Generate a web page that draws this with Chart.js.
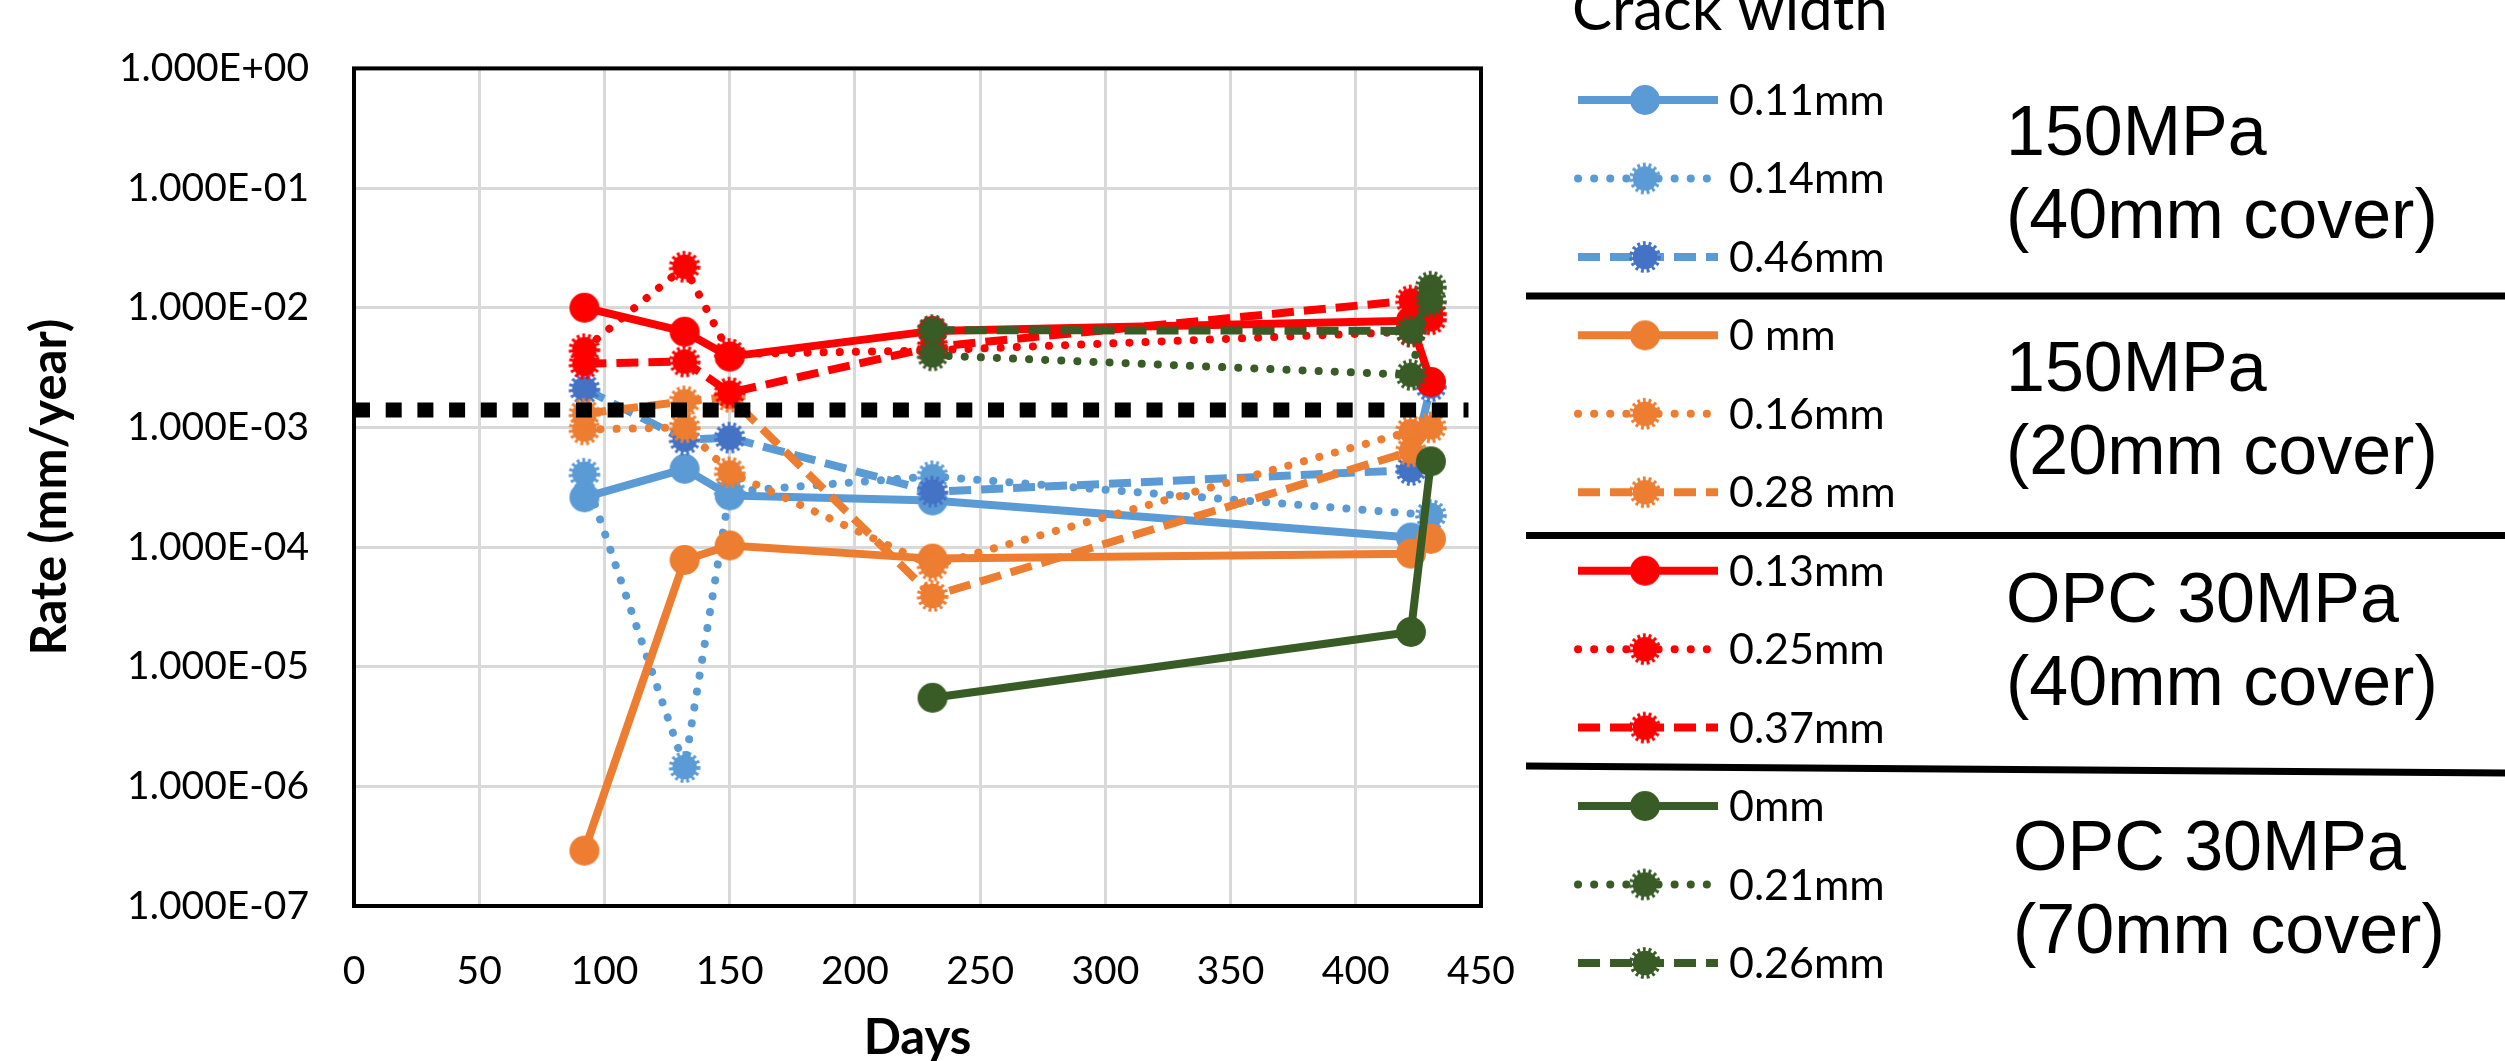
<!DOCTYPE html>
<html><head><meta charset="utf-8">
<script src="https://cdn.jsdelivr.net/npm/chart.js@4.4.0/dist/chart.umd.min.js"></script>
<style>html,body{margin:0;padding:0;background:#fff;overflow:hidden}canvas{display:block}</style>
</head><body>
<canvas id="c" width="2505" height="1061"></canvas>
<script>
// ---------- DATA ----------
const yTickValues = [1, 1e-1, 1e-2, 1e-3, 1e-4, 1e-5, 1e-6, 1e-7];
const yTickLabels = ['1.000E+00','1.000E-01','1.000E-02','1.000E-03','1.000E-04','1.000E-05','1.000E-06','1.000E-07'];
const xAxisTitle = 'Days';
const yAxisTitle = 'Rate (mm/year)';
const legendTitle = 'Crack width';

const seriesNames = ['0.11mm','0.14mm','0.46mm','0 mm','0.16mm','0.28 mm','0.13mm','0.25mm','0.37mm','0mm','0.21mm','0.26mm'];

// 150MPa (40mm cover)
const days_a1 = [92, 132, 150, 231, 422];
const rate_a1 = [2.6e-4, 4.5e-4, 2.7e-4, 2.45e-4, 1.2e-4];
const days_a2 = [92, 132, 150, 231, 430];
const rate_a2 = [4.1e-4, 1.45e-6, 2.9e-4, 3.9e-4, 1.85e-4];
const days_a3 = [92, 132, 150, 231, 422, 430];
const rate_a3 = [2.1e-3, 7.9e-4, 8.2e-4, 2.9e-4, 4.4e-4, 2.2e-3];
// 150MPa (20mm cover)
const days_b1 = [92, 132, 150, 231, 422, 430];
const rate_b1 = [2.9e-7, 7.8e-5, 1.03e-4, 8.0e-5, 8.8e-5, 1.17e-4];
const days_b2 = [92, 132, 150, 231, 422];
const rate_b2 = [9.6e-4, 1.0e-3, 4.2e-4, 7.0e-5, 9.3e-4];
const days_b3 = [92, 132, 150, 231, 422, 430];
const rate_b3 = [1.3e-3, 1.65e-3, 1.8e-3, 3.9e-5, 6.3e-4, 1.0e-3];
// OPC 30MPa (40mm cover)
const days_c1 = [92, 132, 150, 231, 422, 430];
const rate_c1 = [1.0e-2, 6.3e-3, 3.9e-3, 6.4e-3, 7.8e-3, 2.4e-3];
const days_c2 = [92, 132, 150, 231, 422, 430];
const rate_c2 = [4.5e-3, 2.2e-2, 4.1e-3, 4.4e-3, 6.3e-3, 8.0e-3];
const days_c3 = [92, 132, 150, 231, 422, 430];
const rate_c3 = [3.4e-3, 3.55e-3, 1.95e-3, 4.7e-3, 1.15e-2, 9.0e-3];
// OPC 30MPa (70mm cover)
const days_d1 = [231, 422, 430];
const rate_d1 = [5.5e-6, 1.95e-5, 5.2e-4];
const days_d2 = [231, 422, 430];
const rate_d2 = [4.0e-3, 2.75e-3, 1.5e-2];
const days_d3 = [231, 422, 430];
const rate_d3 = [6.5e-3, 6.4e-3, 1.13e-2];

// threshold line
const threshold_days = [0, 445];
const threshold_rate = [1.4e-3, 1.4e-3];

const groupLabels = [['150MPa','(40mm cover)'],['150MPa','(20mm cover)'],['OPC 30MPa','(40mm cover)'],['OPC 30MPa','(70mm cover)']];

// ---------- STYLE ----------
const BLUE='#5B9BD5', DBLUE='#4472C4', ORANGE='#ED7D31', RED='#FF0000', GREEN='#395C27';
const TXT='#000000';

function marker(color, spiky){
  const c=document.createElement('canvas'); c.width=c.height=36;
  const g=c.getContext('2d');
  g.fillStyle=color; g.strokeStyle=color;
  if(!spiky){ g.beginPath(); g.arc(18,18,15,0,Math.PI*2); g.fill(); }
  else {
    g.beginPath(); g.arc(18,18,12.3,0,Math.PI*2); g.fill();
    g.lineWidth=4.4; g.setLineDash([2.8,2.8]);
    g.beginPath(); g.arc(18,18,13.6,0,Math.PI*2); g.stroke();
  }
  return c;
}
function makeDs(idx, days, rates, color, mColor, style){
  return {
    label: seriesNames[idx],
    data: days.map((d,i)=>({x:d, y:rates[i]})),
    borderColor: color, backgroundColor: mColor,
    borderWidth: 8,
    borderDash: style==='dot'?[0.1,16]:(style==='dash'?[22,10]:[]),
    borderCapStyle: style==='dot'?'round':'butt',
    borderJoinStyle: 'round',
    pointStyle: marker(mColor, style!=='solid'),
    pointRadius: 15, tension: 0, order: 30-idx
  };
}
const datasets = [
  makeDs(0, days_a1, rate_a1, BLUE, BLUE, 'solid'),
  makeDs(1, days_a2, rate_a2, BLUE, BLUE, 'dot'),
  makeDs(2, days_a3, rate_a3, BLUE, DBLUE, 'dash'),
  makeDs(3, days_b1, rate_b1, ORANGE, ORANGE, 'solid'),
  makeDs(4, days_b2, rate_b2, ORANGE, ORANGE, 'dot'),
  makeDs(5, days_b3, rate_b3, ORANGE, ORANGE, 'dash'),
  makeDs(6, days_c1, rate_c1, RED, RED, 'solid'),
  makeDs(7, days_c2, rate_c2, RED, RED, 'dot'),
  makeDs(8, days_c3, rate_c3, RED, RED, 'dash'),
  makeDs(9, days_d1, rate_d1, GREEN, GREEN, 'solid'),
  makeDs(10, days_d2, rate_d2, GREEN, GREEN, 'dot'),
  makeDs(11, days_d3, rate_d3, GREEN, GREEN, 'dash'),
  { label:'threshold', data: threshold_days.map((d,i)=>({x:d,y:threshold_rate[i]})),
    borderColor:'#000', borderWidth:15, borderDash:[16,15.7], borderCapStyle:'butt',
    pointRadius:0, order:-1, _legend:false }
];

const deco = {
  id:'deco',
  beforeDatasetsDraw(chart){
    const {ctx, chartArea:a} = chart;
    ctx.save(); ctx.strokeStyle='#000'; ctx.lineWidth=4;
    ctx.strokeRect(a.left, a.top, a.right-a.left, a.bottom-a.top);
    ctx.restore();
  },
  afterDraw(chart){
    const ctx = chart.ctx;
    ctx.save();
    ctx.fillStyle=TXT; ctx.textAlign='left'; ctx.textBaseline='alphabetic';
    ctx.font='60px Lato';
    ctx.fillText(legendTitle, 1572, 30);
    const x0=1578, x1=1718, mx=1645, tx=1729;
    ctx.font='43px Lato';
    chart.data.datasets.forEach((ds,i)=>{
      if(ds._legend===false) return;
      const y = 100 + i*78.45;
      ctx.save();
      ctx.strokeStyle=ds.borderColor; ctx.lineWidth=8;
      ctx.setLineDash(ds.borderDash); ctx.lineCap=ds.borderCapStyle;
      ctx.beginPath(); ctx.moveTo(x0,y); ctx.lineTo(x1,y); ctx.stroke();
      ctx.restore();
      const m=ds.pointStyle; ctx.drawImage(m, mx-m.width/2, y-m.height/2);
      ctx.fillStyle=TXT; ctx.fillText(ds.label, tx, y+15);
    });
    ctx.strokeStyle='#000'; ctx.lineWidth=7; ctx.setLineDash([]);
    const seps=[[296,296],[535.5,535.5],[766,773]];
    seps.forEach(s=>{ctx.beginPath(); ctx.moveTo(1526,s[0]); ctx.lineTo(2505,s[1]); ctx.stroke();});
    ctx.font='70px "Liberation Sans", Arial, sans-serif';
    const gl=[[2006,155,238],[2006,391,474],[2006,622,705],[2013,870,953]];
    groupLabels.forEach((g,i)=>{
      ctx.fillText(g[0], gl[i][0], gl[i][1]);
      ctx.fillText(g[1], gl[i][0], gl[i][2]);
    });
    ctx.restore();
  }
};

new Chart(document.getElementById('c'), {
  type:'line',
  data:{datasets},
  options:{
    responsive:false, animation:false, devicePixelRatio:1, events:[],
    layout:{padding:{left:0, right:1024, top:64, bottom:0}},
    plugins:{legend:{display:false}, tooltip:{enabled:false}},
    scales:{
      x:{type:'linear', min:0, max:450,
        ticks:{stepSize:50, font:{family:'Lato', size:39}, color:TXT, padding:42},
        grid:{color:'#D9D9D9', lineWidth:3, drawTicks:false},
        border:{display:false},
        title:{display:true, text:xAxisTitle, font:{family:'Lato', size:49, weight:'bold', lineHeight:1}, color:TXT, padding:{top:0,bottom:-2}},
        afterFit(s){ s.height = 155; }
      },
      y:{type:'logarithmic', min:1e-7, max:1,
        afterBuildTicks(s){ s.ticks = yTickValues.map(v=>({value:v})); },
        ticks:{font:{family:'Lato', size:39}, color:TXT, padding:45,
          callback(v){ const i=yTickValues.findIndex(t=>Math.abs(Math.log10(t)-Math.log10(v))<1e-6); return i>=0?yTickLabels[i]:''; }},
        grid:{color:'#D9D9D9', lineWidth:3, drawTicks:false},
        border:{display:false},
        title:{display:true, text:yAxisTitle, font:{family:'Lato', size:49, weight:'bold', lineHeight:1}, color:TXT, padding:{top:26,bottom:0}},
        afterFit(s){ s.width = 354; }
      }
    }
  },
  plugins:[deco]
});
</script>
</body></html>
